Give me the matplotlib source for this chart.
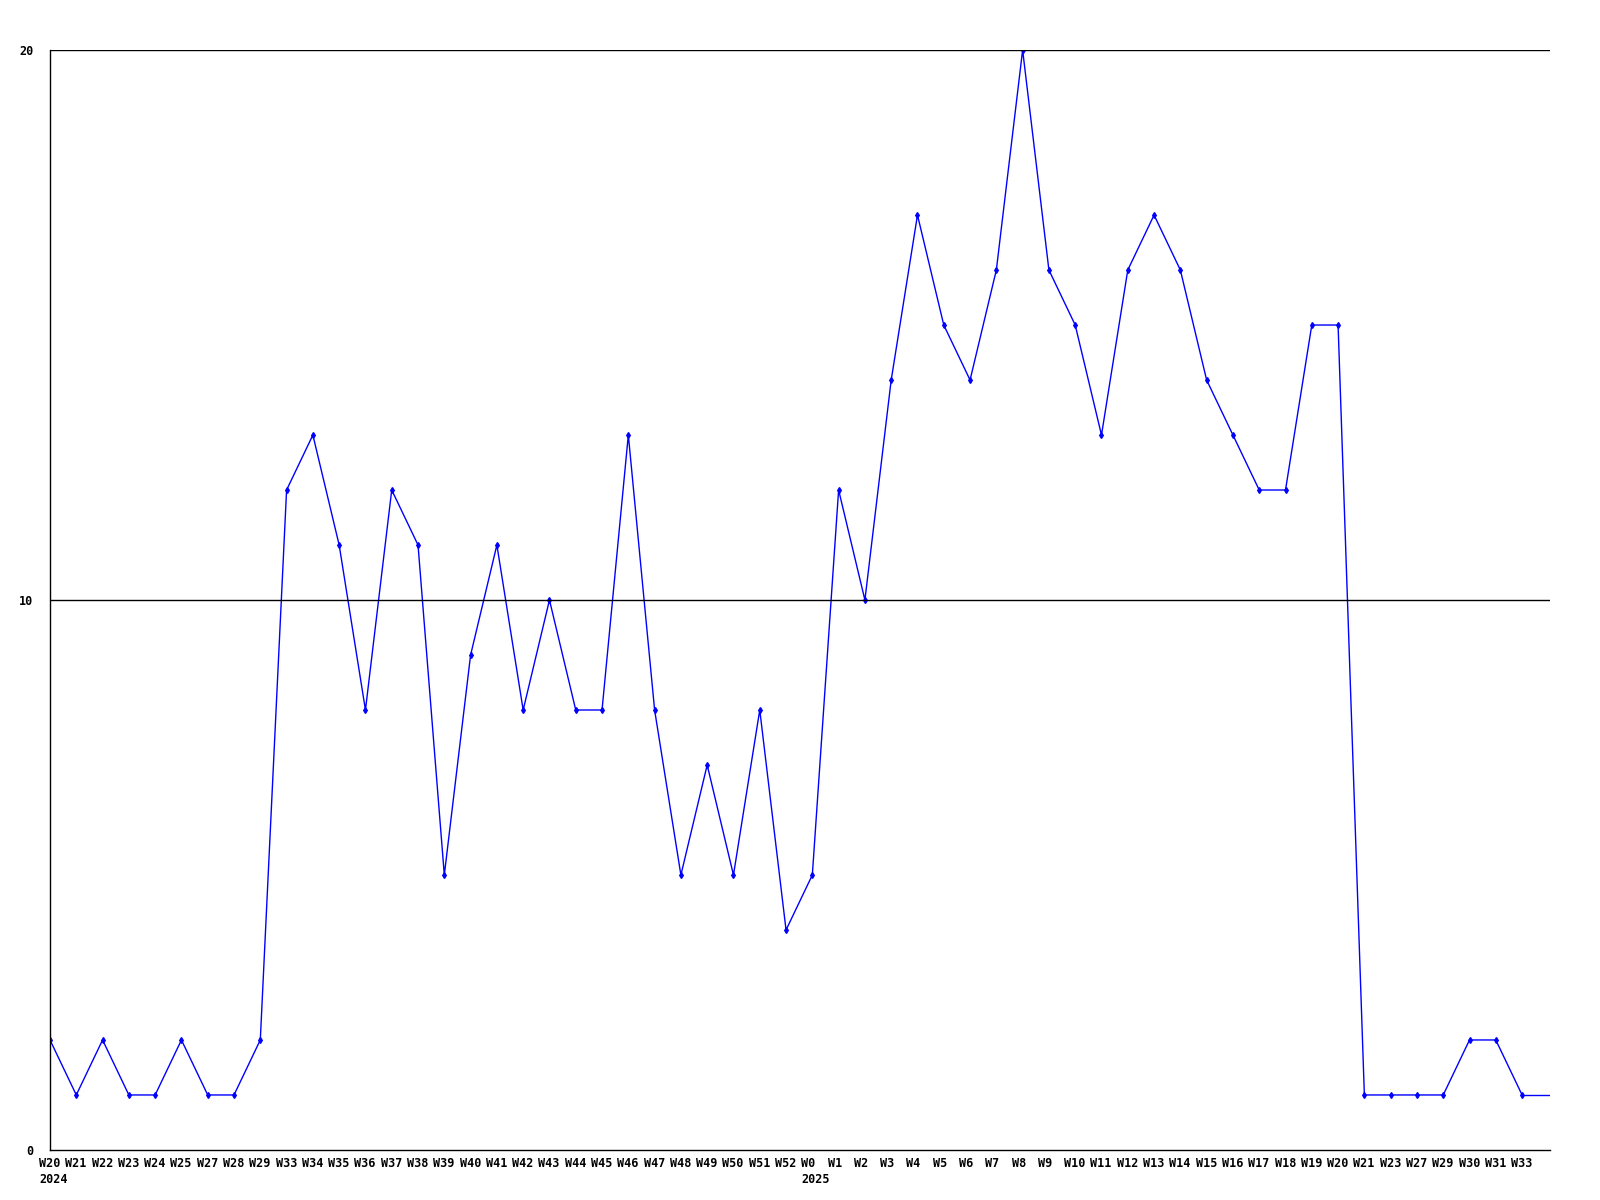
import numpy as np
import matplotlib
matplotlib.use("Agg")
import matplotlib.pyplot as plt
import matplotlib.transforms as mtransforms

# Weekly values
weeks = ["W20", "W21", "W22", "W23", "W24", "W25", "W27", "W28", "W29",
         "W33", "W34", "W35", "W36", "W37", "W38", "W39", "W40", "W41", "W42",
         "W43", "W44", "W45", "W46", "W47", "W48", "W49", "W50", "W51", "W52",
         "W0", "W1", "W2", "W3", "W4", "W5", "W6", "W7", "W8", "W9", "W10",
         "W11", "W12", "W13", "W14", "W15", "W16", "W17", "W18", "W19", "W20",
         "W21", "W23", "W27", "W29", "W30", "W31", "W33"]
values = [2, 1, 2, 1, 1, 2, 1, 1, 2,
          12, 13, 11, 8, 12, 11, 5, 9, 11, 8,
          10, 8, 8, 13, 8, 5, 7, 5, 8, 4,
          5, 12, 10, 14, 17, 15, 14, 16, 20, 16, 15,
          13, 16, 17, 16, 14, 13, 12, 12, 15, 15,
          1, 1, 1, 1, 2, 2, 1]
years = {0: "2024", 29: "2025"}
y_ticks = [0, 10, 20]

x = np.arange(len(values))
labels = [w + ("\n" + years[i] if i in years else "") for i, w in enumerate(weeks)]

fig = plt.figure(figsize=(16, 12), dpi=100)
ax = fig.add_axes([0.03125, 0.0417, 0.9378, 0.9166])

xmax = len(values) - 1 + 1.08
ax.plot(x, values, color="#0000ff", linewidth=1, marker="d", markersize=3)
ax.hlines(values[-1], x[-1], xmax, color="#0000ff", linewidth=1)

for v in y_ticks[1:]:
    ax.axhline(v, color="black", linewidth=1)

ax.set_xlim(0, xmax)
ax.set_ylim(0, 20)
ax.spines["top"].set_visible(False)
ax.spines["right"].set_visible(False)
ax.spines["left"].set_linewidth(1)
ax.spines["bottom"].set_linewidth(1)

font = dict(family="DejaVu Sans Mono", weight="bold", size=8.5)
ax.set_xticks(x)
ax.set_xticklabels(labels, ha="left", linespacing=1.3, **font)
ax.set_yticks(y_ticks)
ax.set_yticklabels([str(t) for t in y_ticks], **font)
ax.tick_params(axis="both", length=0)
ax.tick_params(axis="x", pad=5)
ax.tick_params(axis="y", pad=12)

offset = mtransforms.ScaledTranslation(-11 / 100, 0, fig.dpi_scale_trans)
for lab in ax.get_xticklabels():
    lab.set_transform(lab.get_transform() + offset)

fig.savefig("out.png", dpi=100)
